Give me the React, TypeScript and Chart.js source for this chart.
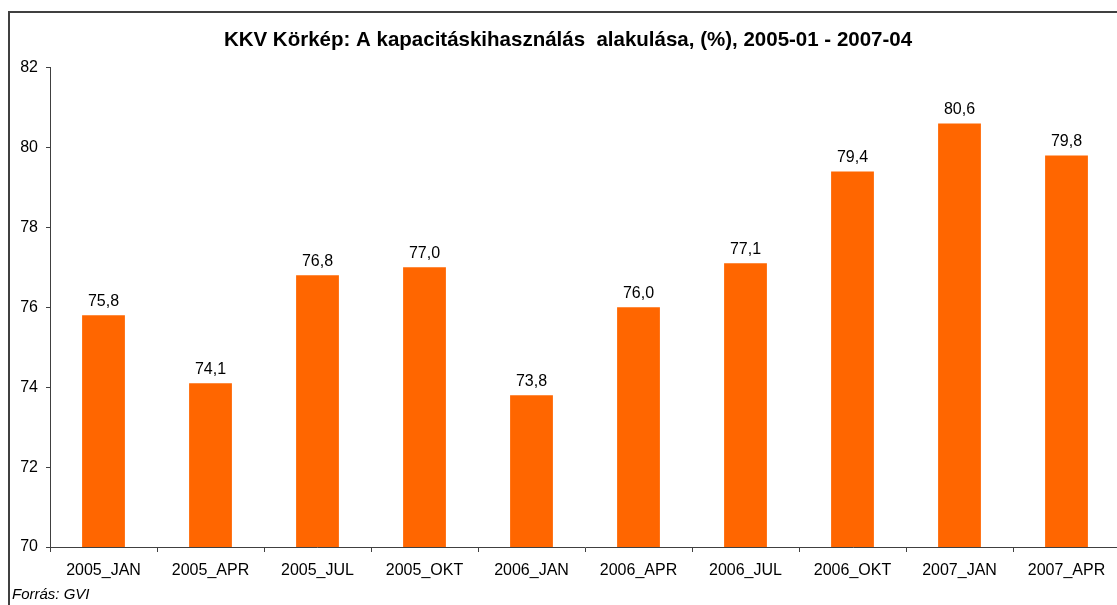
import React, { useEffect, useRef } from "react";
import { Chart, registerables } from "chart.js";

Chart.register(...registerables);

const categories = ["2005_JAN", "2005_APR", "2005_JUL", "2005_OKT", "2006_JAN", "2006_APR", "2006_JUL", "2006_OKT", "2007_JAN", "2007_APR"];
const values = [75.8, 74.1, 76.8, 77.0, 73.8, 76.0, 77.1, 79.4, 80.6, 79.8];
const titleText = "KKV Körkép: A kapacitáskihasználás  alakulása, (%), 2005-01 - 2007-04";
const sourceText = "Forrás: GVI";

const FONT = "'Liberation Sans', Arial, sans-serif";

const decorPlugin = {
  id: "decor",
  beforeDraw(chart: any) {
    const ctx = chart.ctx;
    ctx.save();
    ctx.fillStyle = "#fff";
    ctx.fillRect(0, 0, chart.width, chart.height);
    ctx.strokeStyle = "#404040";
    ctx.lineWidth = 2;
    ctx.beginPath();
    ctx.moveTo(9, chart.height + 5);
    ctx.lineTo(9, 12);
    ctx.lineTo(chart.width + 5, 12);
    ctx.stroke();
    ctx.restore();
  },
  afterDraw(chart: any) {
    const ctx = chart.ctx;
    ctx.save();
    ctx.fillStyle = "#000";
    ctx.font = `16px ${FONT}`;
    ctx.textAlign = "center";
    ctx.textBaseline = "middle";
    const meta = chart.getDatasetMeta(0);
    meta.data.forEach((bar: any, i: number) => {
      const v = values[i];
      ctx.fillText(v.toFixed(1).replace(".", ","), bar.x, bar.y - 14);
    });
    ctx.font = `italic 15px ${FONT}`;
    ctx.textAlign = "left";
    ctx.fillText(sourceText, 12, 595);
    ctx.restore();
  },
};

export default function App() {
  const ref = useRef<HTMLCanvasElement>(null);
  useEffect(() => {
    if (!ref.current) return;
    const chart = new Chart(ref.current, {
      type: "bar",
      data: {
        labels: categories,
        datasets: [
          {
            data: values,
            backgroundColor: "#FF6600",
            borderWidth: 0,
            barPercentage: 0.4,
            categoryPercentage: 1,
          },
        ],
      },
      options: {
        responsive: false,
        animation: false,
        layout: { padding: { left: 16, right: 0, top: 0, bottom: 0 } },
        plugins: {
          legend: { display: false },
          tooltip: { enabled: false },
          title: {
            display: true,
            text: titleText,
            color: "#000",
            font: { family: FONT, size: 20.5, weight: "bold" },
            padding: { top: 28, bottom: 15 },
          },
        },
        scales: {
          x: {
            grid: { display: true, drawOnChartArea: false, drawTicks: true, tickLength: 5, color: "#404040", offset: true },
            border: { display: true, color: "#404040", width: 1 },
            ticks: { color: "#000", font: { family: FONT, size: 16 }, padding: 9, maxRotation: 0, autoSkip: false },
            afterFit(scale: any) {
              scale.height = 58;
            },
          },
          y: {
            min: 70,
            max: 82,
            ticks: { stepSize: 2, color: "#000", font: { family: FONT, size: 16 }, padding: 8 },
            grid: { display: true, drawOnChartArea: false, drawTicks: true, tickLength: 4, color: "#404040" },
            border: { display: true, color: "#404040", width: 1 },
            afterFit(scale: any) {
              scale.width = 34;
            },
          },
        },
      },
      plugins: [decorPlugin],
    });
    return () => chart.destroy();
  }, []);
  return (
    <div style={{ position: "fixed", left: 0, top: 0, width: 1117, height: 605, overflow: "hidden", background: "#fff" }}>
      <canvas ref={ref} width={1120} height={605} style={{ display: "block", width: 1120, height: 605 }} />
    </div>
  );
}
